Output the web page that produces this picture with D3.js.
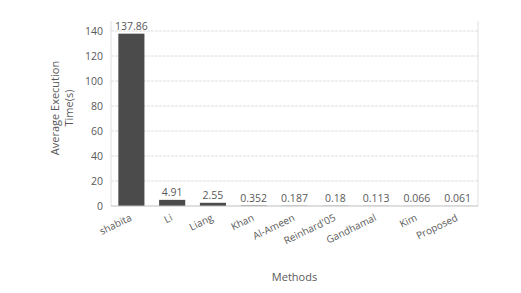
<!DOCTYPE html>
<html>
<head>
<meta charset="utf-8">
<script src="https://cdn.jsdelivr.net/npm/d3@7"></script>
<style>
body { margin: 0; background: #fff; }
text { font-family: "Open Sans", "Liberation Sans", sans-serif; fill: #595959; }
</style>
</head>
<body>
<div id="mainDiv"></div>
<script>
'use strict';

var methods = ['shabita', 'Li', 'Liang', 'Khan', 'Al-Ameen', "Reinhard'05", 'Gandhamal', 'Kim', 'Proposed'];
var times = [137.86, 4.91, 2.55, 0.352, 0.187, 0.18, 0.113, 0.066, 0.061];
var timeLabels = ['137.86', '4.91', '2.55', '0.352', '0.187', '0.18', '0.113', '0.066', '0.061'];
var yTicks = [0, 20, 40, 60, 80, 100, 120, 140];

var myApp = {};
myApp.w = 521;
myApp.h = 293;
myApp.plot = {left: 111, right: 478, top: 31, bottom: 206};

myApp.run = function()
{
    var svg = d3.select('#mainDiv').append('svg')
        .attr('width', myApp.w)
        .attr('height', myApp.h);

    var x = d3.scaleBand()
        .domain(methods)
        .range([myApp.plot.left, myApp.plot.right])
        .paddingInner(0.36)
        .paddingOuter(0.18);

    var y = d3.scaleLinear()
        .domain([0, 140])
        .range([myApp.plot.bottom, myApp.plot.top]);

    // grid lines
    svg.append('g').selectAll('line')
        .data(yTicks.slice(1))
        .enter().append('line')
        .attr('x1', myApp.plot.left)
        .attr('x2', myApp.plot.right)
        .attr('y1', function(d){ return y(d); })
        .attr('y2', function(d){ return y(d); })
        .attr('stroke', '#dedede')
        .attr('stroke-dasharray', '3,1');

    // plot borders left/right
    svg.append('line')
        .attr('x1', myApp.plot.left).attr('x2', myApp.plot.left)
        .attr('y1', myApp.plot.top - 10).attr('y2', myApp.plot.bottom)
        .attr('stroke', '#e0e0e0');
    svg.append('line')
        .attr('x1', myApp.plot.right).attr('x2', myApp.plot.right)
        .attr('y1', myApp.plot.top - 10).attr('y2', myApp.plot.bottom)
        .attr('stroke', '#e0e0e0');

    // y axis labels
    var yAxis = d3.axisLeft(y).tickValues(yTicks).tickSize(0).tickPadding(8);
    var gy = svg.append('g')
        .attr('transform', 'translate(' + myApp.plot.left + ',0)')
        .call(yAxis);
    gy.select('.domain').remove();
    gy.selectAll('text')
        .style('font-size', '10.5px')
        .style('font-family', '"Open Sans", sans-serif')
        .style('fill', '#595959');

    // bars
    svg.append('g').selectAll('rect')
        .data(times)
        .enter().append('rect')
        .attr('x', function(d, i){ return x(methods[i]); })
        .attr('width', x.bandwidth())
        .attr('y', function(d){ return y(d); })
        .attr('height', function(d){ return y(0) - y(d); })
        .attr('fill', '#4b4b4b');

    // bottom axis line
    svg.append('line')
        .attr('x1', myApp.plot.left).attr('x2', myApp.plot.right)
        .attr('y1', myApp.plot.bottom).attr('y2', myApp.plot.bottom)
        .attr('stroke', '#bfbfbf');

    // value labels
    svg.append('g').selectAll('text')
        .data(timeLabels)
        .enter().append('text')
        .attr('x', function(d, i){ return x(methods[i]) + x.bandwidth() / 2; })
        .attr('y', function(d, i){ return y(times[i]) - 4; })
        .attr('text-anchor', 'middle')
        .style('font-size', '10.5px')
        .text(function(d){ return d; });

    // category labels
    svg.append('g').selectAll('text')
        .data(methods)
        .enter().append('text')
        .attr('transform', function(d){
            return 'translate(' + (x(d) + x.bandwidth() / 2 + 1) + ',' + 220 + ') rotate(-26)';
        })
        .attr('text-anchor', 'end')
        .style('font-size', '10px')
        .text(function(d){ return d; });

    // axis titles
    svg.append('text')
        .attr('x', (myApp.plot.left + myApp.plot.right) / 2)
        .attr('y', 281)
        .attr('text-anchor', 'middle')
        .style('font-size', '11px')
        .text('Methods');

    var yt = svg.append('text')
        .attr('transform', 'translate(59,108) rotate(-90)')
        .attr('text-anchor', 'middle')
        .style('font-size', '11px');
    yt.append('tspan').attr('x', 0).attr('dy', 0).text('Average Execution');
    yt.append('tspan').attr('x', 0).attr('dy', '1.3em').text('Time(s)');
};

window.onload = myApp.run;
</script>
</body>
</html>
